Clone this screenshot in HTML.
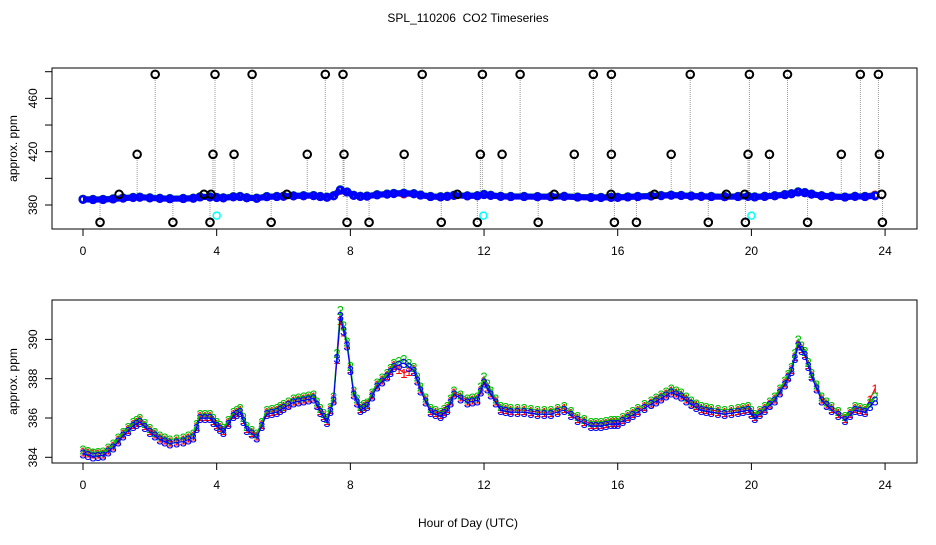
<!DOCTYPE html>
<html><head><meta charset="utf-8"><style>
body{margin:0;background:#fff;}
svg text{font-family:"Liberation Sans",Arial,sans-serif;}
</style></head><body>
<svg id="c" width="936" height="540" xmlns="http://www.w3.org/2000/svg">
<rect width="936" height="540" fill="#fff"/>
<text x="468" y="22" font-size="12" text-anchor="middle">SPL_110206&#160; CO2 Timeseries</text>
<text x="468" y="527" font-size="12" text-anchor="middle">Hour of Day (UTC)</text>
<g id="topPanel"></g>
<g id="botPanel"></g>
</svg>
<script>
const hours=[0.0,0.3,0.6,0.9,1.2,1.5,1.7,2.0,2.3,2.6,3.0,3.3,3.5,3.8,4.0,4.2,4.5,4.7,4.9,5.2,5.5,5.8,6.0,6.3,6.6,6.9,7.1,7.3,7.5,7.7,7.9,8.1,8.3,8.5,8.8,9.1,9.3,9.6,9.9,10.1,10.4,10.7,10.9,11.1,11.5,11.8,12.0,12.2,12.5,12.8,13.2,13.6,14.0,14.4,14.8,15.2,15.5,15.8,16.0,16.3,16.6,17.0,17.3,17.6,17.9,18.2,18.5,18.8,19.2,19.6,19.9,20.1,20.4,20.7,21.0,21.2,21.4,21.6,21.8,22.1,22.4,22.8,23.1,23.4,23.7];
const series3=[384.2,384.05,384.1,384.5,385.1,385.6,385.8,385.3,384.9,384.7,384.8,385.0,386.0,386.0,385.6,385.3,386.1,386.3,385.4,385.0,386.2,386.3,386.5,386.8,386.9,387.0,386.3,385.8,386.9,391.2,389.7,387.2,386.4,386.6,387.6,388.1,388.6,388.8,388.4,387.4,386.3,386.1,386.4,387.2,386.8,386.9,387.8,387.2,386.4,386.3,386.3,386.2,386.2,386.4,385.9,385.6,385.6,385.7,385.7,386.0,386.3,386.7,387.0,387.3,387.1,386.7,386.4,386.3,386.2,386.3,386.4,386.0,386.4,386.9,387.7,388.4,389.7,389.2,388.1,386.9,386.4,385.9,386.4,386.3,386.9];
const series2=[384.4,384.25,384.3,384.7,385.3,385.8,386.0,385.5,385.1,384.9,385.0,385.2,386.2,386.2,385.8,385.5,386.3,386.5,385.6,385.2,386.4,386.5,386.7,387.0,387.1,387.2,386.5,386.0,387.1,391.5,389.9,387.4,386.6,386.8,387.8,388.3,388.8,389.0,388.6,387.6,386.5,386.3,386.6,387.4,387.0,387.1,388.1,387.4,386.6,386.5,386.5,386.4,386.4,386.6,386.1,385.8,385.8,385.9,385.9,386.2,386.5,386.9,387.2,387.5,387.3,386.9,386.6,386.5,386.4,386.5,386.6,386.2,386.6,387.1,387.9,388.6,390.0,389.4,388.3,387.1,386.6,386.1,386.6,386.5,387.1];
const series1=[384.3,384.2,384.2,384.6,385.2,385.7,385.9,385.4,385.0,384.8,384.9,385.1,386.1,386.1,385.7,385.4,386.2,386.4,385.5,385.1,386.3,386.4,386.6,386.9,387.0,387.1,386.4,385.9,387.0,391.0,389.8,387.3,386.5,386.7,387.7,388.2,388.7,388.3,388.5,387.5,386.4,386.2,386.5,387.3,386.9,387.0,387.9,387.3,386.5,386.4,386.4,386.3,386.3,386.5,386.0,385.7,385.7,385.8,385.8,386.1,386.4,386.8,387.1,387.4,387.2,386.8,386.5,386.4,386.3,386.4,386.5,386.1,386.5,387.0,387.8,388.5,389.8,389.3,388.2,387.0,386.5,386.0,386.5,386.4,387.5];
const outlierHours=[2.16,3.95,5.06,7.25,7.78,10.15,11.95,13.08,15.27,15.81,18.17,19.94,21.08,23.26,23.80,1.62,3.89,4.52,6.71,7.81,9.61,11.89,12.54,14.7,15.81,17.6,19.9,20.54,22.69,23.83,1.08,3.62,3.83,6.1,11.2,14.1,15.8,17.1,19.25,19.8,23.9,0.51,2.69,3.8,5.63,7.9,8.56,10.72,11.8,13.62,15.9,16.56,18.71,19.82,21.68,23.92];
const outlierValues=[478,478,478,478,478,478,478,478,478,478,478,478,478,478,478,418,418,418,418,418,418,418,418,418,418,418,418,418,418,418,388,388,388,388,388,388,388,388,388,388,388,367,367,367,367,367,367,367,367,367,367,367,367,367,367,367];
const flagHours=[4.0,11.98,20.0];
const flagValues=[372,372,372];
const xTicks=[0,4,8,12,16,20,24];
const topTicks=[380,400,420,440,460,480];
const topLabels=["380","","420","","460",""];
const botTicks=[384,386,388,390];
const NS="http://www.w3.org/2000/svg";
function mk(p,tag,a){const e=document.createElementNS(NS,tag);for(const k in a)e.setAttribute(k,a[k]);p.appendChild(e);return e;}
const X=h=>83+h*33.42;
function panel(g,y0,y1,ymap,yt,yl,name){
  const box=mk(g,'rect',{x:52,y:y0,width:865,height:y1-y0,fill:'none',stroke:'#000'});
  
  
  xTicks.forEach(t=>{mk(g,'line',{x1:X(t),x2:X(t),y1:y1,y2:y1+7,stroke:'#000'});
    const tx=mk(g,'text',{x:X(t),y:y1+26,'font-size':12,'text-anchor':'middle'});tx.textContent=t;
    
    });
  yt.forEach((t,i)=>{const y=ymap(t);mk(g,'line',{x1:45,x2:52,y1:y,y2:y,stroke:'#000'});
    if(yl[i]){const tx=mk(g,'text',{x:0,y:0,'font-size':12,'text-anchor':'middle',transform:`translate(37,${y}) rotate(-90)`});tx.textContent=yl[i];
    
    }});
  const yc=(y0+y1)/2;
  const lab=mk(g,'text',{x:0,y:0,'font-size':12,'text-anchor':'middle',transform:`translate(17,${yc}) rotate(-90)`});lab.textContent='approx. ppm';
  
  
}
const topG=document.getElementById('topPanel');
const YT=v=>205-(v-380)*1.333;
panel(topG,68,229,YT,topTicks,topLabels,'top');
outlierHours.forEach((h,i)=>{
  mk(topG,'line',{x1:X(h),x2:X(h),y1:YT(386),y2:YT(outlierValues[i]),stroke:'#999','stroke-dasharray':'1,1'});
});
[[series1,'red'],[series2,'#00c000'],[series3,'blue']].forEach(([s,c])=>{
  for(let i=0;i<hours.length;i++){
    const e=mk(topG,'circle',{cx:X(hours[i]),cy:YT(s[i]),r:3.3,fill:'none',stroke:c,'stroke-width':2.5});
    
    
    if(i>0&&hours[i]-hours[i-1]<0.5)mk(topG,'line',{x1:X(hours[i-1]),y1:YT(s[i-1]),x2:X(hours[i]),y2:YT(s[i]),stroke:c,'stroke-width':6});
  }
});
outlierHours.forEach((h,i)=>{
  const e=mk(topG,'circle',{cx:X(h),cy:YT(outlierValues[i]),r:3.8,fill:'none',stroke:'#000','stroke-width':2});
  
  
});
flagHours.forEach((h,i)=>{
  const e=mk(topG,'circle',{cx:X(h),cy:YT(flagValues[i]),r:3.5,fill:'none',stroke:'cyan','stroke-width':1.5});
  
  
});
const botG=document.getElementById('botPanel');
const YB=v=>457.3-(v-384)*19.65;
panel(botG,300,463,YB,botTicks,botTicks.map(String),'bottom');
[[series1,'red','1'],[series2,'#00c000','2'],[series3,'blue','3']].forEach(([s,c,ch])=>{
  let d='';
  for(let i=0;i<hours.length;i++){
    const brk=i==0||hours[i]-hours[i-1]>=0.5;
    d+=(brk?'M':'L')+X(hours[i]).toFixed(1)+','+YB(s[i]).toFixed(1);
  }
  const p=mk(botG,'path',{d:d,fill:'none',stroke:c,'stroke-width':1.2});
  
  
  for(let i=0;i<hours.length;i++){
    const t=mk(botG,'text',{x:X(hours[i]),y:YB(s[i])+5,'font-size':13,'text-anchor':'middle',fill:c});t.textContent=ch;
    
    
    if(i>0&&hours[i]-hours[i-1]<0.5){
      const t2=mk(botG,'text',{x:(X(hours[i])+X(hours[i-1]))/2,y:(YB(s[i])+YB(s[i-1]))/2+5,'font-size':13,'text-anchor':'middle',fill:c});t2.textContent=ch;
      
      
    }
  }
});
</script>
</body></html>
